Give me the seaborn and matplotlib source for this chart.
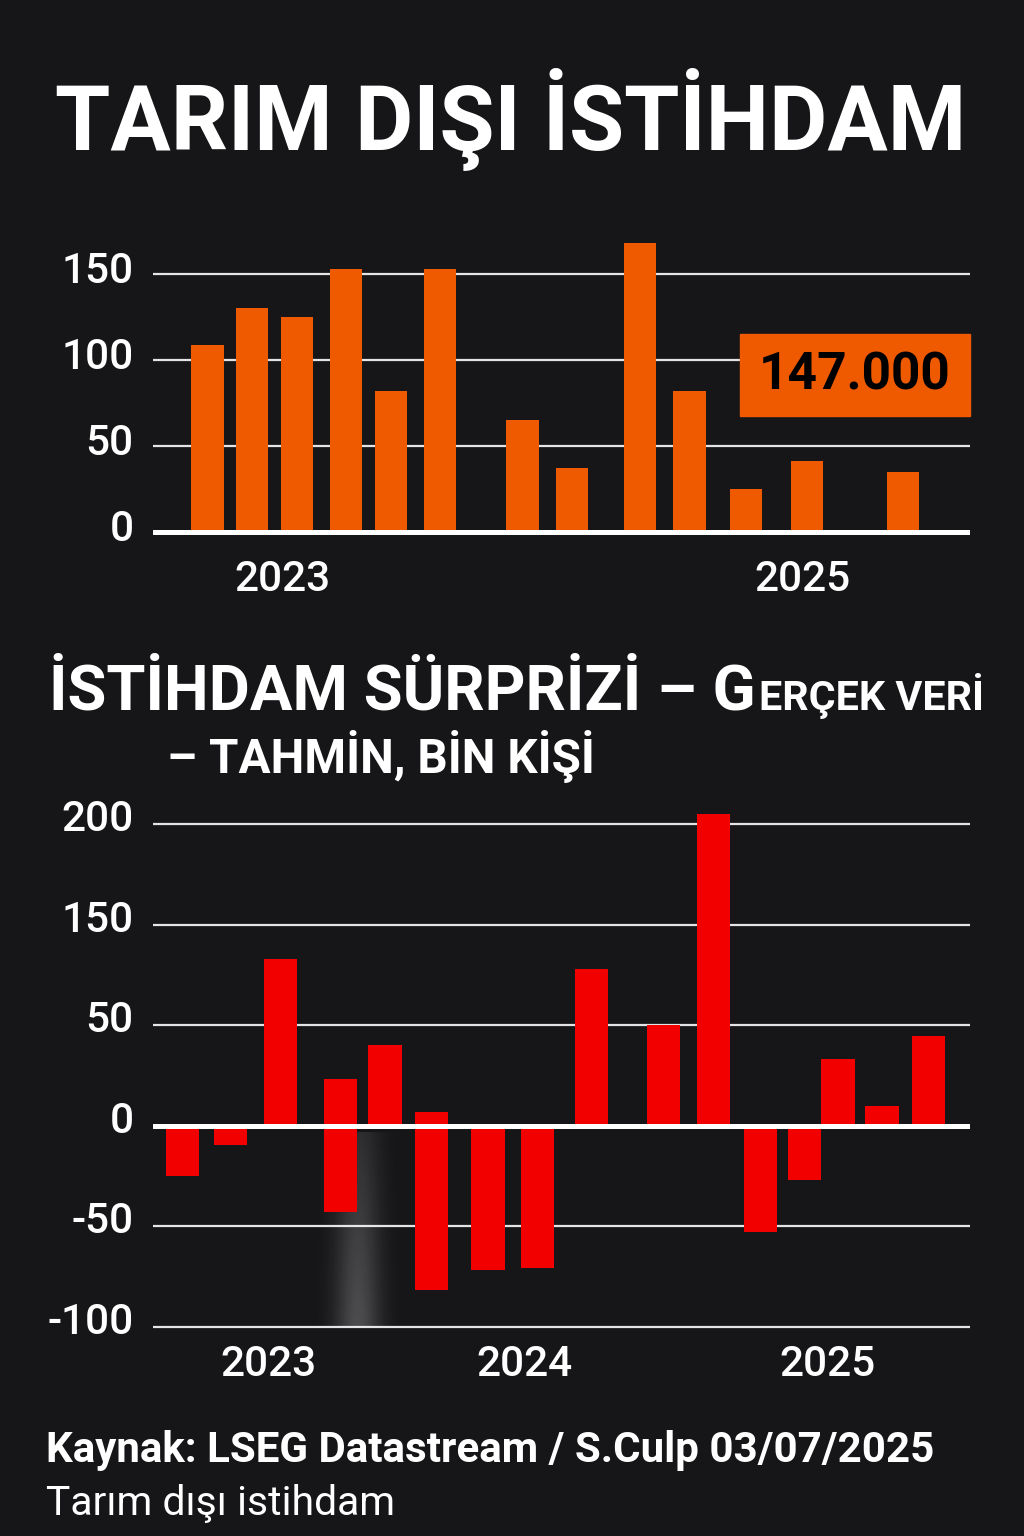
import numpy as np
import pandas as pd
import seaborn as sns
from matplotlib import pyplot as plt
from matplotlib.patches import Rectangle
from matplotlib.transforms import ScaledTranslation

W, H = 1024, 1536
BG = '#161619'
TURUNCU = '#EF5A00'
KIRMIZI = '#F20000'
FONT = ['Roboto', 'DejaVu Sans']
nan = np.nan

# ust grafik: tarim disi istihdam, bin kisi
ust_ay = [0, 0.95, 1.9, 2.95, 3.9, 4.95, 6.7, 7.75, 9.2, 10.25, 11.45, 12.75, 14.8]
ust_deger = [109, 130, 125, 153, 82, 153, 65, 37, 168, 82, 25, 41, 35]
ust_ytick = [0, 50, 100, 150]
ust_yil_ay = [1.6, 12.65]
ust_yil = ['2023', '2025']
son_deger = '147.000'

# alt grafik: istihdam surprizi (gercek veri - tahmin)
alt_ay = [0, 1.02, 2.09, 3.36, 4.31, 5.3, 6.5, 7.55, 8.7, 10.23, 11.3, 12.3, 13.24, 13.95, 14.89, 15.87]
alt_pozitif = [nan, nan, 83, 23, 40, 7, nan, nan, 78, 50, 155, nan, nan, 33, 10, 44.5]
alt_negatif = [-25, -9.5, nan, -43, nan, -82, -72, -71, nan, nan, nan, -53, -27, nan, nan, nan]
alt_ytick = [-100, -50, 0, 50, 100, 150]
alt_ytick_etiket = ['-100', '-50', '0', '50', '150', '200']
alt_yil_ay = [1.82, 7.27, 13.73]
alt_yil = ['2023', '2024', '2025']

sns.set_theme(style='dark', rc={'figure.facecolor': BG, 'axes.facecolor': BG})
plt.rcParams['font.family'] = FONT

fig = plt.figure(figsize=(W / 100, H / 100), dpi=100)


def px_ax(x0, y0, x1, y1):
    return fig.add_axes([x0 / W, 1 - y1 / H, (x1 - x0) / W, (y1 - y0) / H])


def px_text(x, y, s, w, **kw):
    t = fig.text(x / W, 1 - y / H, s, color=kw.pop('color', 'white'), family=FONT,
                 va=kw.pop('va', 'baseline'), **kw)
    r = fig.canvas.get_renderer()
    bb = t.get_window_extent(renderer=r)
    t.set_fontsize(t.get_fontsize() * w / bb.width)
    return t


def bars(ax, x, y, color, w):
    d = pd.DataFrame({'ay': x, 'deger': y}).dropna()
    step = np.diff(np.sort(d['ay'].unique())).min()
    sns.barplot(data=d, x='ay', y='deger', native_scale=True, width=w / step,
                color=color, saturation=1, errorbar=None, linewidth=0, ax=ax, zorder=2)


def style(ax, yticks, ylabels, xticks, xlabels, xpad, shift):
    ax.set_facecolor(BG)
    for s in ax.spines.values():
        s.set_visible(False)
    ax.set_xlabel('')
    ax.set_ylabel('')
    ax.set_yticks(yticks, ylabels)
    ax.set_xticks(xticks, xlabels)
    ax.tick_params(length=0, colors='white', labelsize=30.5)
    ax.tick_params(axis='y', pad=14)
    ax.tick_params(axis='x', pad=xpad)
    for lab in ax.get_yticklabels() + ax.get_xticklabels():
        lab.set_fontweight('medium')
    ax.yaxis.grid(True, color='#e4e4e4', linewidth=1.6)
    ax.xaxis.grid(False)
    ax.set_axisbelow(True)
    ax.axhline(0, color='white', linewidth=3.6, zorder=4)
    for lab in ax.get_yticklabels():
        lab.set_transform(lab.get_transform() + ScaledTranslation(0, shift / 100, fig.dpi_scale_trans))


# ust grafik
ax1 = px_ax(153, 532 - 173 * 1.72, 970, 532 + 3 * 1.72)
bars(ax1, ust_ay, ust_deger, TURUNCU, 0.69)
ax1.set_ylim(-3, 173)
ax1.set_xlim(-1.16, 16.22)
style(ax1, ust_ytick, [str(v) for v in ust_ytick], ust_yil_ay, ust_yil, 16, 7)
ax1.yaxis.grid(False)
for v in ust_ytick[1:]:
    ax1.axhline(v, color='#e4e4e4', linewidth=1.6, zorder=1)

fig.add_artist(Rectangle((740 / W, 1 - 416 / H), 230 / W, 82 / H,
                         transform=fig.transFigure, color=TURUNCU, zorder=3))
px_text(855, 375, son_deger, 192, color='black', fontweight='bold', fontsize=46,
        ha='center', va='center', zorder=4)

# alt grafik
ax2 = px_ax(153, 1125.6 - 158 * 2.01, 970, 1125.6 + 103 * 2.01)
bars(ax2, alt_ay, alt_pozitif, KIRMIZI, 0.71)
bars(ax2, alt_ay, alt_negatif, KIRMIZI, 0.71)

# soluk gri parilti (negatif cubugun sagi)
gx = np.linspace(-1, 1, 120)
gy = np.linspace(0, 1, 80)[:, None]
alpha = 0.24 * np.exp(-(gx / 0.5) ** 2)[None, :] * (0.45 + 0.55 * gy)
img = np.zeros((80, 120, 4))
img[..., :3] = 1
img[..., 3] = alpha
cx = alt_ay[3] + 0.36
ax2.imshow(img, extent=(cx - 0.95, cx + 0.95, -100, -3), origin='upper',
           aspect='auto', interpolation='bilinear', zorder=1.5)

ax2.set_ylim(-103, 158)
ax2.set_xlim(-0.63, 16.76)
style(ax2, alt_ytick, alt_ytick_etiket, alt_yil_ay, alt_yil, 8, 9)

# basliklar
px_text(55, 150, 'TARIM DIŞI İSTİHDAM', 910, fontweight='bold', fontsize=76)
t1 = px_text(49, 710, 'İSTİHDAM SÜRPRİZİ – G', 708, fontweight='bold', fontsize=52)
x1 = t1.get_window_extent(renderer=fig.canvas.get_renderer()).x1
px_text(x1 + 3, 710, 'ERÇEK VERİ', 225, fontweight='bold', fontsize=34)
px_text(167, 773, '– TAHMİN, BİN KİŞİ', 427, fontweight='bold', fontsize=40)

# kaynak
px_text(46, 1462, 'Kaynak: LSEG Datastream / S.Culp 03/07/2025', 888, fontweight='bold', fontsize=28)
px_text(46, 1515, 'Tarım dışı istihdam', 349, fontsize=28)

fig.savefig('out.png', dpi=100, facecolor=BG)
